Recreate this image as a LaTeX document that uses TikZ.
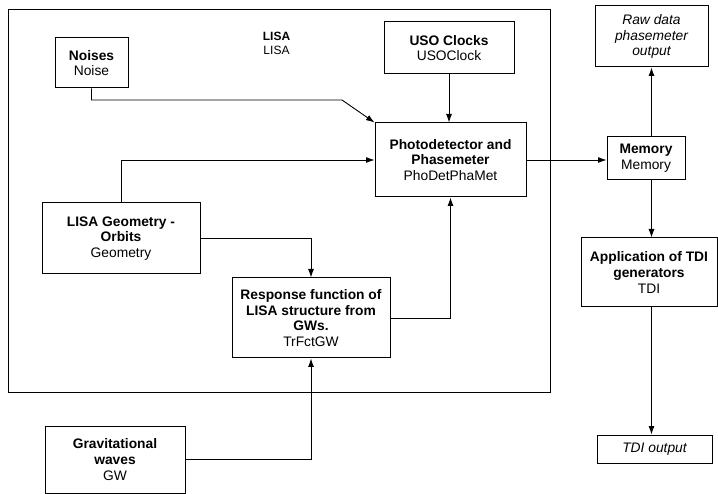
\documentclass[tikz,border=0pt]{standalone}
\usepackage{fontspec}
\setmainfont{Liberation Sans}
\usetikzlibrary{arrows.meta}

\begin{document}
\begin{tikzpicture}[x=1pt,y=-1pt,
  box/.style={draw,line width=1pt,align=center,inner sep=1pt,font=\fontsize{13.8}{15.8}\selectfont},
  outbox/.style={box,font=\fontsize{13.8}{15.8}\selectfont\itshape},
  arr/.style={line width=0.9pt,-{Latex[length=8.5pt,width=6pt]}}]
\useasboundingbox (0,0) rectangle (718,494);

% Draw outer LISA frame
\draw[line width=1pt] (8,10) rectangle (550,393);
\node[align=center,font=\fontsize{12}{14}\selectfont] (lisalbl) at (276.5,43) {\textbf{LISA}\\LISA};

% Blocks inside LISA
\node[box,minimum width=73pt,minimum height=50pt] (noise) at (91.5,63) {\textbf{Noises}\\Noise};
\node[box,minimum width=130pt,minimum height=52pt] (uso) at (449,48) {\textbf{USO Clocks}\\USOClock};
\node[box,minimum width=151pt,minimum height=74pt] (phodet) at (450.5,160) {\textbf{Photodetector and}\\\textbf{Phasemeter}\\PhoDetPhaMet};
\node[box,minimum width=158pt,minimum height=71pt] (geom) at (121,238.5) {\textbf{LISA Geometry -}\\\textbf{Orbits}\\Geometry};
\node[box,minimum width=158pt,minimum height=80pt] (resp) at (311,318) {\textbf{Response function of}\\\textbf{LISA structure from}\\\textbf{GWs.}\\TrFctGW};

% Blocks outside LISA
\node[box,minimum width=140pt,minimum height=67pt] (gw) at (115,459.5) {\textbf{Gravitational}\\\textbf{waves}\\GW};
\node[box,minimum width=78pt,minimum height=43pt] (memory) at (646,158.5) {\textbf{Memory}\\Memory};
\node[outbox,minimum width=113pt,minimum height=61pt] (raw) at (651.5,36.5) {Raw data\\phasemeter\\output};
\node[box,minimum width=136pt,minimum height=69pt] (tdi) at (649,272.5) {\textbf{Application of TDI}\\\textbf{generators}\\TDI};
\node[outbox,minimum width=115pt,minimum height=28pt] (tdiout) at (654.5,449) {TDI output};

% Connectors
\coordinate (nbend) at (91.5,100);
\coordinate (nknee) at (342,100);
\draw[arr] (noise.south) -- (nbend) -- (nknee) -- (phodet.north west);
\draw[arr] (uso.south) -- (uso.south |- phodet.north);
\draw[arr] (geom.north) |- (phodet.west);
\draw[arr] (geom.east) -| (resp.north);
\draw[arr] (resp.east) -| (phodet.south);
\draw[arr] (gw.east) -| (resp.south);
\draw[arr] (phodet.east) -- (phodet.east -| memory.west);
\draw[arr] (raw.south |- memory.north) -- (raw.south);
\draw[arr] (raw.south |- memory.south) -- (raw.south |- tdi.north);
\draw[arr] (raw.south |- tdi.south) -- (raw.south |- tdiout.north);

\end{tikzpicture}
\end{document}
